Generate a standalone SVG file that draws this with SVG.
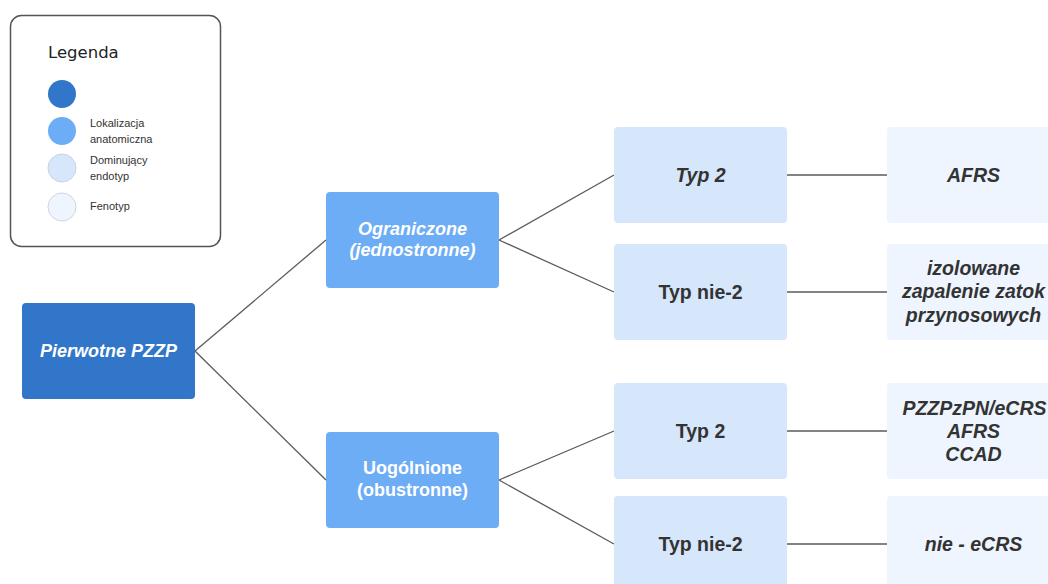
<svg xmlns="http://www.w3.org/2000/svg" width="1048" height="584" viewBox="0 0 1048 584">
<style>
.t{font-family:"Liberation Sans",Arial,sans-serif;font-weight:bold;text-anchor:middle;dominant-baseline:central}
.i{font-style:italic}
.w{fill:#ffffff;font-size:18px}
.d{fill:#333333;font-size:19.5px}
.lg{font-family:"Liberation Sans",Arial,sans-serif;font-size:11px;fill:#333333}
.c{stroke:#5a5a5a;stroke-width:1.3;fill:none}
</style>
<rect width="1048" height="584" fill="#ffffff"/>
<g id="legend">
<rect x="10.5" y="15.5" width="210" height="231" rx="11" fill="#ffffff" stroke="#555555" stroke-width="1.5"/>
<text x="48" y="58" font-family="'DejaVu Sans','Noto Sans',sans-serif" font-size="16.5" fill="#222222">Legenda</text>
<circle cx="62" cy="94" r="14" fill="#3176C8"/>
<circle cx="62" cy="131" r="14" fill="#6DADF6"/>
<circle cx="62" cy="168" r="14" fill="#D6E7FB" stroke="#c9d3de" stroke-width="1"/>
<circle cx="62" cy="207" r="14" fill="#EEF5FE" stroke="#cfd6de" stroke-width="1"/>
<text class="lg" x="90" y="127">Lokalizacja</text>
<text class="lg" x="90" y="143">anatomiczna</text>
<text class="lg" x="90" y="164">Dominujący</text>
<text class="lg" x="90" y="180">endotyp</text>
<text class="lg" x="90" y="210">Fenotyp</text>
</g>
<g id="connectors">
<line class="c" x1="195" y1="351" x2="326" y2="240"/>
<line class="c" x1="195" y1="351" x2="326" y2="480"/>
<line class="c" x1="499" y1="240" x2="614" y2="175"/>
<line class="c" x1="499" y1="240" x2="614" y2="292"/>
<line class="c" x1="499" y1="480" x2="614" y2="431"/>
<line class="c" x1="499" y1="480" x2="614" y2="544"/>
<line class="c" x1="787" y1="175" x2="887" y2="175"/>
<line class="c" x1="787" y1="292" x2="887" y2="292"/>
<line class="c" x1="787" y1="431" x2="887" y2="431"/>
<line class="c" x1="787" y1="544" x2="887" y2="544"/>
</g>
<g id="root">
<rect x="22" y="303" width="173" height="96" rx="4" fill="#3176C8"/>
<text class="t i w" x="108.5" y="351">Pierwotne PZZP</text>
</g>
<g id="ograniczone">
<rect x="326" y="192" width="173" height="96" rx="4" fill="#6DADF6"/>
<text class="t i w" x="412.5" y="229">Ograniczone</text>
<text class="t i w" x="412.5" y="250">(jednostronne)</text>
</g>
<g id="uogolnione">
<rect x="326" y="432" width="173" height="96" rx="4" fill="#6DADF6"/>
<text class="t w" x="412.5" y="468">Uogólnione</text>
<text class="t w" x="412.5" y="490">(obustronne)</text>
</g>
<g id="typ2-a">
<rect x="614" y="127" width="173" height="96" rx="4" fill="#D6E7FB"/>
<text class="t i d" x="700.5" y="175">Typ 2</text>
</g>
<g id="typnie2-a">
<rect x="614" y="244" width="173" height="96" rx="4" fill="#D6E7FB"/>
<text class="t d" x="700.5" y="292">Typ nie-2</text>
</g>
<g id="typ2-b">
<rect x="614" y="383" width="173" height="96" rx="4" fill="#D6E7FB"/>
<text class="t d" x="700.5" y="431">Typ 2</text>
</g>
<g id="typnie2-b">
<rect x="614" y="496" width="173" height="96" rx="4" fill="#D6E7FB"/>
<text class="t d" x="700.5" y="544">Typ nie-2</text>
</g>
<g id="afrs">
<rect x="887" y="127" width="173" height="96" rx="4" fill="#EEF5FE"/>
<text class="t i d" x="973.5" y="175">AFRS</text>
</g>
<g id="izolowane">
<rect x="887" y="244" width="173" height="96" rx="4" fill="#EEF5FE"/>
<text class="t i d" x="973.5" y="268">izolowane</text>
<text class="t i d" x="973.5" y="291">zapalenie zatok</text>
<text class="t i d" x="973.5" y="315">przynosowych</text>
</g>
<g id="pzzpzpn">
<rect x="887" y="383" width="173" height="96" rx="4" fill="#EEF5FE"/>
<text class="t i d" x="974.5" y="408">PZZPzPN/eCRS</text>
<text class="t i d" x="973.5" y="431">AFRS</text>
<text class="t i d" x="973.5" y="454">CCAD</text>
</g>
<g id="nie-ecrs">
<rect x="887" y="496" width="173" height="96" rx="4" fill="#EEF5FE"/>
<text class="t i d" x="973.5" y="544">nie - eCRS</text>
</g>
</svg>
